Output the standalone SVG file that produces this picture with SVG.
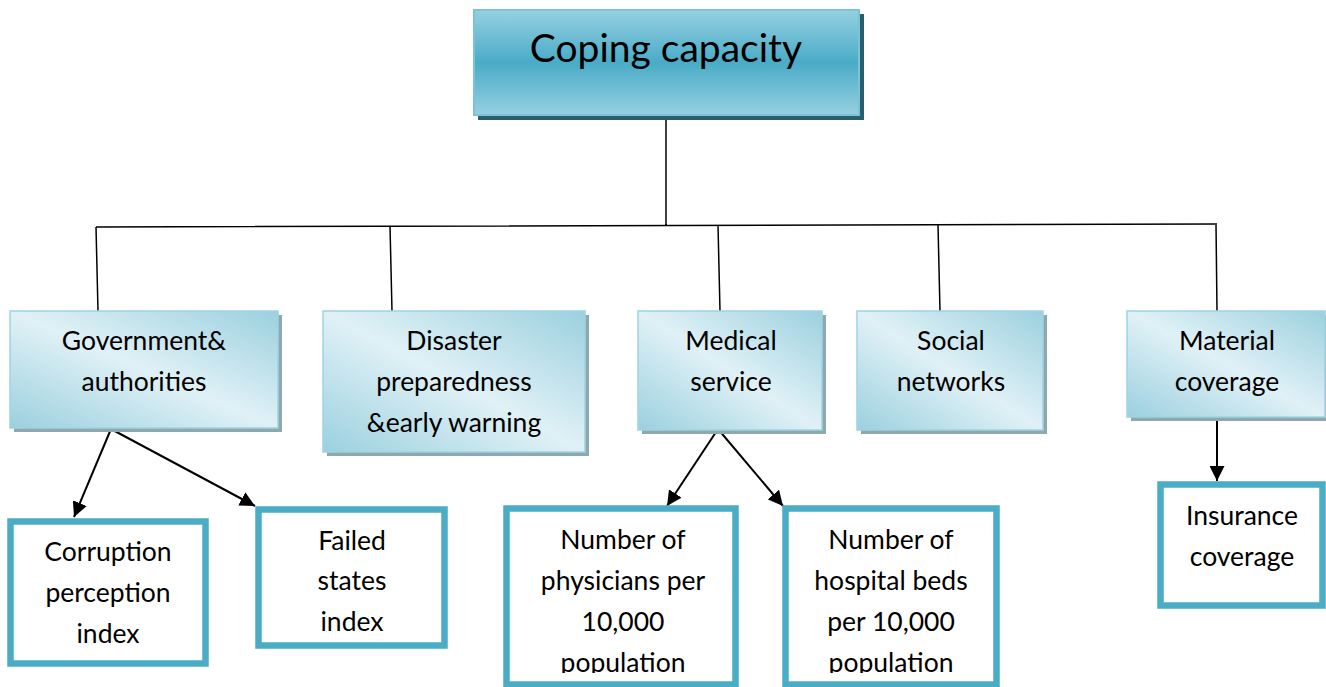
<svg xmlns="http://www.w3.org/2000/svg" width="1326" height="687" viewBox="0 0 1326 687">
  <defs>
    <linearGradient id="gTop" x1="0" y1="0" x2="0" y2="1">
      <stop offset="0" stop-color="#96d0e1"/>
      <stop offset="0.5" stop-color="#4aabc7"/>
      <stop offset="1" stop-color="#96d0e1"/>
    </linearGradient>
    <linearGradient id="gMid" x1="1" y1="0" x2="0" y2="1">
      <stop offset="0" stop-color="#9bd0df"/>
      <stop offset="0.5" stop-color="#e0f1f6"/>
      <stop offset="1" stop-color="#9bd0df"/>
    </linearGradient>
    <marker id="arrow" viewBox="0 0 10 10" refX="10" refY="5" markerWidth="7.5" markerHeight="7.5" orient="auto" markerUnits="strokeWidth">
      <path d="M0,0 L10,5 L0,10 z" fill="#000"/>
    </marker>
    <clipPath id="clipBottom">
      <rect x="0" y="0" width="1326" height="673"/>
    </clipPath>
  </defs>
  <style>
    text { font-family: Lato, "Open Sans", "Liberation Sans", sans-serif; fill: #000; text-anchor: middle; }
    .t1 { font-size: 39px; }
    .t2 { font-size: 26.5px; }
    .top { fill: url(#gTop); stroke: #7cc3d8; stroke-width: 2; }
    .topShadow { fill: #2b5e6c; }
    .mid { fill: url(#gMid); stroke: #9fd3e2; stroke-width: 1.5; }
    .midShadow { fill: #8ea8b0; }
    .leaf { fill: #fff; stroke: #4bacc6; stroke-width: 6.5; }
    .tree { fill: none; stroke: #000; stroke-width: 1.5; }
    .arr { fill: none; stroke: #000; stroke-width: 2; marker-end: url(#arrow); }
  </style>

  <!-- connectors -->
  <g id="connectors">
    <path class="tree" d="M666,115 V225 M96,227 L1217,224 M96,227 L98,311 M390,226 L392,311 M718,225 L720,311 M938,225 L940,311 M1216,224 L1217,311"/>
    <line class="arr" x1="111" y1="429" x2="74" y2="517"/>
    <line class="arr" x1="111" y1="429" x2="255" y2="506"/>
    <line class="arr" x1="718" y1="429" x2="667" y2="506"/>
    <line class="arr" x1="718" y1="429" x2="783" y2="506"/>
    <line class="arr" x1="1217" y1="417" x2="1217" y2="481"/>
  </g>

  <!-- root -->
  <g id="coping-capacity">
    <rect class="topShadow" x="478" y="14" width="386" height="106"/>
    <rect class="top" x="474" y="10" width="385" height="105"/>
    <text class="t1" x="666" y="62">Coping capacity</text>
  </g>

  <!-- second level -->
  <g id="government">
    <rect class="midShadow" x="14" y="315" width="268" height="117"/>
    <rect class="mid" x="10" y="311" width="268" height="117"/>
    <text class="t2" x="144" y="350">Government&amp;</text>
    <text class="t2" x="144" y="391">authorities</text>
  </g>
  <g id="disaster">
    <rect class="midShadow" x="327" y="315" width="262" height="141"/>
    <rect class="mid" x="323" y="311" width="262" height="141"/>
    <text class="t2" x="454" y="350">Disaster</text>
    <text class="t2" x="454" y="391">preparedness</text>
    <text class="t2" x="454" y="432">&amp;early warning</text>
  </g>
  <g id="medical">
    <rect class="midShadow" x="642" y="315" width="184" height="119"/>
    <rect class="mid" x="638" y="311" width="184" height="119"/>
    <text class="t2" x="731" y="350">Medical</text>
    <text class="t2" x="731" y="391">service</text>
  </g>
  <g id="social">
    <rect class="midShadow" x="861" y="315" width="186" height="119"/>
    <rect class="mid" x="857" y="311" width="186" height="119"/>
    <text class="t2" x="951" y="350">Social</text>
    <text class="t2" x="951" y="391">networks</text>
  </g>
  <g id="material">
    <rect class="midShadow" x="1131" y="315" width="198" height="106"/>
    <rect class="mid" x="1127" y="311" width="198" height="106"/>
    <text class="t2" x="1227" y="350">Material</text>
    <text class="t2" x="1227" y="391">coverage</text>
  </g>

  <!-- indicators -->
  <g id="corruption">
    <rect class="leaf" x="10.5" y="521.5" width="195" height="142"/>
    <text class="t2" x="108" y="561">Corruption</text>
    <text class="t2" x="108" y="602">perception</text>
    <text class="t2" x="108" y="643">index</text>
  </g>
  <g id="failed-states">
    <rect class="leaf" x="258.5" y="509.5" width="186" height="136"/>
    <text class="t2" x="352" y="550">Failed</text>
    <text class="t2" x="352" y="590">states</text>
    <text class="t2" x="352" y="631">index</text>
  </g>
  <g id="physicians">
    <rect class="leaf" x="506.5" y="508.5" width="229" height="176"/>
    <g clip-path="url(#clipBottom)">
      <text class="t2" x="623" y="549">Number of</text>
      <text class="t2" x="623" y="590">physicians per</text>
      <text class="t2" x="623" y="631">10,000</text>
      <text class="t2" x="623" y="672">population</text>
    </g>
  </g>
  <g id="hospital-beds">
    <rect class="leaf" x="785.5" y="508.5" width="211" height="176"/>
    <g clip-path="url(#clipBottom)">
      <text class="t2" x="891" y="549">Number of</text>
      <text class="t2" x="891" y="590">hospital beds</text>
      <text class="t2" x="891" y="631">per 10,000</text>
      <text class="t2" x="891" y="672">population</text>
    </g>
  </g>
  <g id="insurance">
    <rect class="leaf" x="1160.5" y="484.5" width="162" height="121"/>
    <text class="t2" x="1242" y="525">Insurance</text>
    <text class="t2" x="1242" y="566">coverage</text>
  </g>
</svg>
